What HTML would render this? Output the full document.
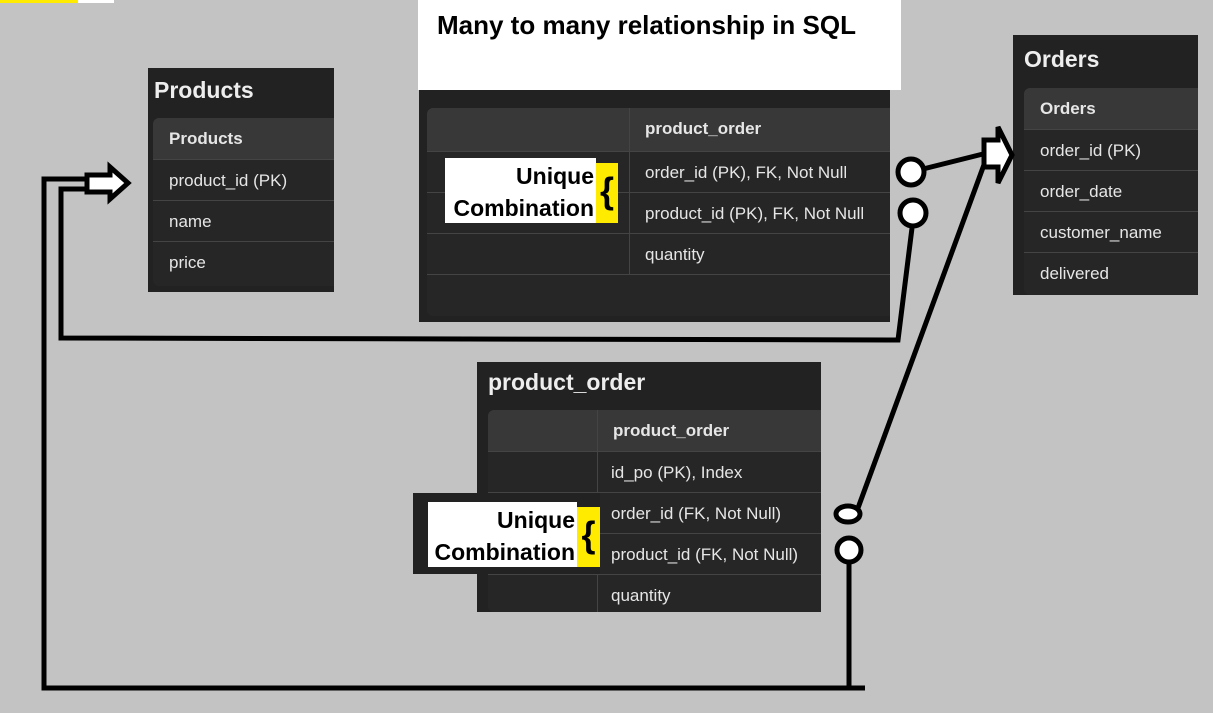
<!DOCTYPE html>
<html><head><style>
body{margin:0;width:1213px;height:713px;background:#c3c3c3;position:relative;overflow:hidden;font-family:"Liberation Sans",sans-serif}
.p{position:absolute;background:#222}
.t{position:absolute;color:#eee;font-weight:bold;font-size:23px}
.tb{position:absolute;background:#262626;border-radius:6px 0 0 6px;overflow:hidden}
.r{position:absolute;left:0;right:0;border-top:1px solid #444;color:#e6e6e6;font-size:17px;box-sizing:border-box;padding-top:11px}
.h{background:#383838;font-weight:bold;border-top:none}
.u{position:absolute;background:#fff;color:#000;font-weight:bold;font-size:23px;text-align:right;line-height:32px;padding-top:2px;padding-right:2px;box-sizing:border-box}
.y{position:absolute;background:#ffeb00;color:#000;font-size:36px;font-weight:bold;text-align:center;line-height:56px}
</style></head><body>
<div style="position:absolute;left:0;top:0;width:78px;height:3px;background:#ffeb00"></div>
<div style="position:absolute;left:78px;top:0;width:36px;height:3px;background:#fff"></div>

<div class="p" style="left:148px;top:68px;width:186px;height:224px"></div>
<div class="t" style="left:154px;top:77px">Products</div>
<div class="tb" style="left:153px;top:118px;width:181px;height:168px">
<div class="r h" style="top:0;height:41px;padding-left:16px">Products</div>
<div class="r" style="top:41px;height:41px;padding-left:16px">product_id (PK)</div>
<div class="r" style="top:82px;height:41px;padding-left:16px">name</div>
<div class="r" style="top:123px;height:45px;padding-left:16px">price</div>
</div>

<div class="p" style="left:419px;top:88px;width:471px;height:234px"></div>
<div style="position:absolute;left:418px;top:0;width:483px;height:90px;background:#fff"></div>
<div style="position:absolute;left:437px;top:10px;font-size:26px;font-weight:bold;color:#000">Many to many relationship in SQL</div>
<div class="tb" style="left:427px;top:108px;width:463px;height:208px">
<div class="r h" style="top:0;height:43px;padding-left:218px">product_order</div>
<div class="r" style="top:43px;height:41px;padding-left:218px">order_id (PK), FK, Not Null</div>
<div class="r" style="top:84px;height:41px;padding-left:218px">product_id (PK), FK, Not Null</div>
<div class="r" style="top:125px;height:41px;padding-left:218px">quantity</div>
<div class="r" style="top:166px;height:42px"></div>
<div style="position:absolute;left:202px;top:0;width:1px;height:166px;background:#444"></div>
</div>
<div class="u" style="left:445px;top:158px;width:151px;height:65px">Unique<br>Combination</div>
<div class="y" style="left:596px;top:163px;width:22px;height:60px">{</div>

<div class="p" style="left:1013px;top:35px;width:185px;height:260px"></div>
<div class="t" style="left:1024px;top:46px">Orders</div>
<div class="tb" style="left:1024px;top:88px;width:174px;height:207px">
<div class="r h" style="top:0;height:41px;padding-left:16px">Orders</div>
<div class="r" style="top:41px;height:41px;padding-left:16px">order_id (PK)</div>
<div class="r" style="top:82px;height:41px;padding-left:16px">order_date</div>
<div class="r" style="top:123px;height:41px;padding-left:16px">customer_name</div>
<div class="r" style="top:164px;height:43px;padding-left:16px">delivered</div>
</div>

<div class="p" style="left:477px;top:362px;width:344px;height:250px"></div>
<div class="t" style="left:488px;top:369px">product_order</div>
<div class="tb" style="left:488px;top:410px;width:333px;height:202px">
<div class="r h" style="top:0;height:41px;padding-left:125px">product_order</div>
<div class="r" style="top:41px;height:41px;padding-left:123px">id_po (PK), Index</div>
<div class="r" style="top:82px;height:41px;padding-left:123px">order_id (FK, Not Null)</div>
<div class="r" style="top:123px;height:41px;padding-left:123px">product_id (FK, Not Null)</div>
<div class="r" style="top:164px;height:38px;padding-left:123px">quantity</div>
<div style="position:absolute;left:109px;top:0;width:1px;height:202px;background:#444"></div>
</div>
<div style="position:absolute;left:413px;top:493px;width:187px;height:81px;background:#222"></div>
<div class="u" style="left:428px;top:502px;width:149px;height:65px">Unique<br>Combination</div>
<div class="y" style="left:577px;top:507px;width:23px;height:60px">{</div>

<svg width="1213" height="713" style="position:absolute;left:0;top:0" fill="none" stroke="#000" stroke-width="5">
<polyline points="86,179 44,179 44,688 865,688"/>
<line x1="849" y1="563" x2="849" y2="688"/>
<circle cx="849" cy="550" r="12" fill="#fff"/>
<polyline points="86,189 61,189 61,338 898,340 912,228"/>
<circle cx="913" cy="213" r="13" fill="#fff"/>
<line x1="911" y1="172" x2="983" y2="154"/>
<circle cx="911" cy="172" r="13" fill="#fff"/>
<line x1="858" y1="508" x2="985" y2="162"/>
<ellipse cx="848" cy="514" rx="12" ry="8" fill="#fff"/>
<polygon points="87,175 110,175 110,167 128,183 110,199 110,192 87,192" fill="#fff"/>
<polygon points="984,140 998,140 998,127 1012,155 998,183 998,167 984,167" fill="#fff"/>
</svg>
</body></html>
